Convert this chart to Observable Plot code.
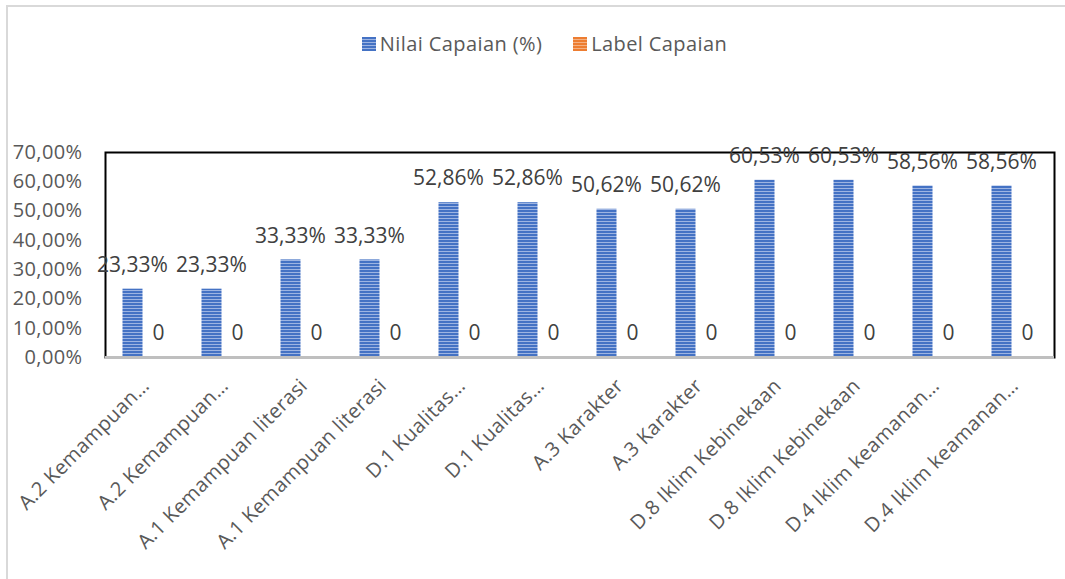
<!DOCTYPE html>
<html><head><meta charset="utf-8">
<script src="https://cdn.jsdelivr.net/npm/d3@7"></script>
<script src="https://cdn.jsdelivr.net/npm/@observablehq/plot@0.6"></script>
<style>
html,body{margin:0;padding:0;background:#fff;overflow:hidden;width:1065px;height:579px;}
#wrap{position:relative;width:1065px;height:579px;font-family:"Open Sans",sans-serif;}
#border{position:absolute;left:6px;top:5px;width:1100px;height:620px;border:2px solid #d9d9d9;box-sizing:border-box;}
#chart{position:absolute;left:0;top:0;}
#legend{position:absolute;top:30px;left:0;width:1065px;display:flex;justify-content:center;gap:31px;font-size:20px;letter-spacing:0.4px;color:#595959;line-height:28px;padding-left:24px;box-sizing:border-box;}
.item{display:flex;align-items:center;gap:4px;}
.sw{width:14px;height:14px;display:inline-block;}
.blue{background:repeating-linear-gradient(to bottom,#4472c4 0px,#4472c4 2px,#9db4e2 2px,#9db4e2 3px);}
.orange{background:repeating-linear-gradient(to bottom,#ed7d31 0px,#ed7d31 2px,#f4b183 2px,#f4b183 3px);}
</style></head>
<body>
<div id="wrap">
  <div id="border"></div>
  <div id="chart"></div>
  <div id="legend">
    <div class="item"><span class="sw blue"></span><span>Nilai Capaian (%)</span></div>
    <div class="item"><span class="sw orange"></span><span>Label Capaian</span></div>
  </div>
</div>
<script>
const categories = [
  "A.2 Kemampuan…", "A.2 Kemampuan…",
  "A.1 Kemampuan literasi", "A.1 Kemampuan literasi",
  "D.1 Kualitas…", "D.1 Kualitas…",
  "A.3 Karakter", "A.3 Karakter",
  "D.8 Iklim Kebinekaan", "D.8 Iklim Kebinekaan",
  "D.4 Iklim keamanan…", "D.4 Iklim keamanan…"
];
const nilaiCapaian = [0.2333, 0.2333, 0.3333, 0.3333, 0.5286, 0.5286, 0.5062, 0.5062, 0.6053, 0.6053, 0.5856, 0.5856];
const labelCapaian = [0, 0, 0, 0, 0, 0, 0, 0, 0, 0, 0, 0];
const yTicks = [0, 0.1, 0.2, 0.3, 0.4, 0.5, 0.6, 0.7];

const fmt = d => (d * 100).toFixed(2).replace(".", ",") + "%";
const rows = categories.map((c, i) => ({i, c, nilai: nilaiCapaian[i], label: labelCapaian[i]}));

const svg = Plot.plot({
  width: 1065, height: 579,
  marginTop: 152, marginBottom: 222, marginLeft: 105, marginRight: 11,
  style: {fontFamily: "'Open Sans', sans-serif", fontSize: "20px", color: "#595959", background: "transparent"},
  x: {type: "band", domain: d3.range(categories.length), padding: 0, tickFormat: i => categories[i],
      tickRotate: -45, tickSize: 0, tickPadding: 25, label: null},
  y: {domain: [0, 0.7], ticks: yTicks, tickFormat: fmt, tickSize: 0, tickPadding: 23, label: null},
  marks: [
    Plot.barY(rows, {x: "i", y: "nilai", fill: "url(#blueStripe)", insetLeft: 16.5, insetRight: 42.5}),
    Plot.barY(rows, {x: "i", y: "label", fill: "url(#orangeStripe)", insetLeft: 36.5, insetRight: 22.5}),
    Plot.frame({stroke: "#000", strokeWidth: 2}),
    Plot.ruleY([0], {stroke: "#bfbfbf", strokeWidth: 3}),
    Plot.text(rows, {x: "i", y: "nilai", text: d => fmt(d.nilai), dx: -13.5, dy: -24, fill: "#404040", fontSize: 21}),
    Plot.text(rows, {x: "i", y: "label", text: d => String(d.label), dx: 12.5, dy: -24, fill: "#404040", fontSize: 21})
  ]
});
svg.insertAdjacentHTML("afterbegin",
  `<defs>
    <pattern id="blueStripe" patternUnits="userSpaceOnUse" width="4" height="3">
      <rect width="4" height="3" fill="#4472c4"/><rect y="2" width="4" height="1" fill="#9db4e2"/>
    </pattern>
    <pattern id="orangeStripe" patternUnits="userSpaceOnUse" width="4" height="3">
      <rect width="4" height="3" fill="#ed7d31"/><rect y="2" width="4" height="1" fill="#f4b183"/>
    </pattern>
  </defs>`);
svg.querySelectorAll('g[aria-label$="tick label"] text').forEach(t => t.style.letterSpacing = "0.4px");
document.getElementById("chart").appendChild(svg);
</script>
</body></html>
